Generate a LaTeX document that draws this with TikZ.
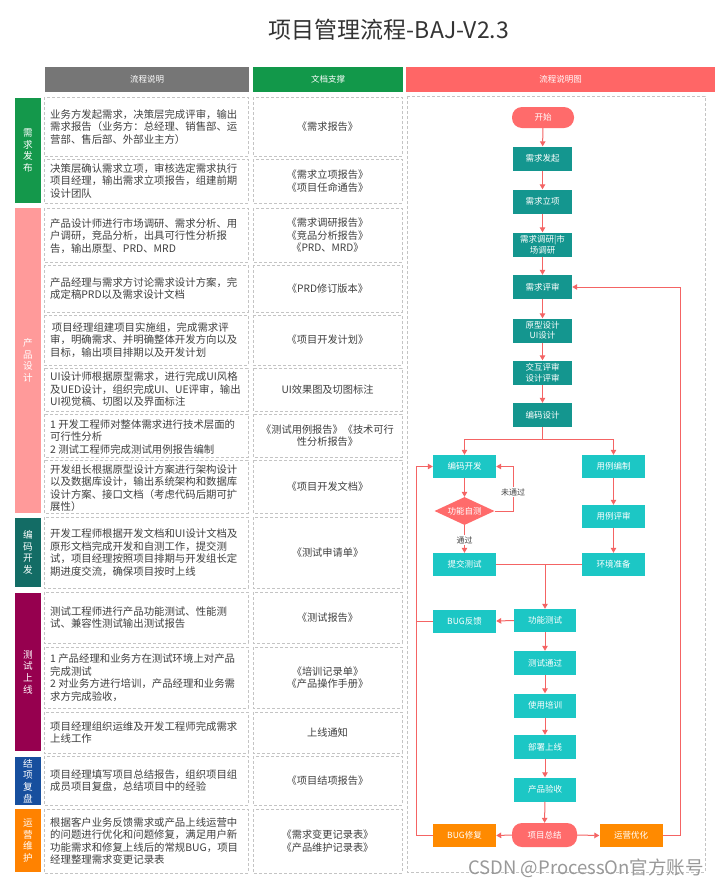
\documentclass[tikz,border=0pt]{standalone}
\usepackage{fontspec}
\setmainfont{Noto Sans CJK SC}
\usetikzlibrary{shapes.geometric,arrows.meta}
\definecolor{txt}{HTML}{404040}
\definecolor{hgray}{HTML}{767676}
\definecolor{hgreen}{HTML}{12984A}
\definecolor{hred}{HTML}{FF6666}
\definecolor{cellgray}{HTML}{C4C4C4}
\definecolor{catgreen}{HTML}{14984B}
\definecolor{catpink}{HTML}{FF9A9A}
\definecolor{catteal}{HTML}{136C65}
\definecolor{catplum}{HTML}{96004F}
\definecolor{catblue}{HTML}{174F9E}
\definecolor{catorange}{HTML}{FF8200}
\definecolor{teald}{HTML}{14968F}
\definecolor{teall}{HTML}{1CC7C5}
\definecolor{linered}{HTML}{F46464}
\definecolor{nodered}{HTML}{FF6B6B}
\definecolor{nodeorange}{HTML}{FF8A00}
\begin{document}
\begin{tikzpicture}[x=1pt,y=-1pt,
  cellb/.style={draw=cellgray, dashed, dash pattern=on 3pt off 2pt, line width=0.7pt},
  desc/.style={anchor=west, align=left, inner sep=0pt, text=txt, font=\fontsize{10.4}{12.5}\selectfont},
  docu/.style={align=center, inner sep=0pt, text=txt, font=\fontsize{10.2}{12.5}\selectfont},
  hdr/.style={text=white, inner sep=0pt, font=\fontsize{8.5}{10}\selectfont},
  cat/.style={text=white, align=center, inner sep=0pt, font=\fontsize{9.6}{11.6}\selectfont},
  fdark/.style={rectangle, fill=teald, text=white, minimum width=59pt, minimum height=24pt, inner sep=1pt, align=center, font=\fontsize{8.5}{10.5}\selectfont},
  flight/.style={rectangle, fill=teall, text=white, minimum width=63pt, minimum height=23pt, inner sep=1pt, align=center, font=\fontsize{8.5}{10.5}\selectfont},
  forange/.style={rectangle, fill=nodeorange, text=white, minimum width=63pt, minimum height=23pt, inner sep=1pt, align=center, font=\fontsize{8.5}{10.5}\selectfont},
  fround/.style={rectangle, rounded corners=10pt, fill=nodered, text=white, inner sep=1pt, align=center, font=\fontsize{8.5}{10.5}\selectfont},
  fdiam/.style={diamond, aspect=2.14, fill=nodered, text=white, minimum width=60pt, minimum height=28pt, inner sep=0pt, font=\fontsize{8.5}{10.5}\selectfont},
  arr/.style={draw=linered, line width=1pt, -{Triangle[length=5pt,width=5.5pt]}},
  ln/.style={draw=linered, line width=1pt},
  lbl/.style={fill=white, text=txt, inner sep=1pt, font=\fontsize{8}{10}\selectfont}
]
\useasboundingbox (0,0) rectangle (720,887);
\fill[white] (0,0) rectangle (720,887);

% title
\node[text=black!80, font=\fontsize{23}{26}\selectfont, inner sep=0pt] (title) at (389,30) {项目管理流程-BAJ-V2.3};

% headers
\fill[hgray] (45,67) rectangle (249,92);
\fill[hgreen] (253,67) rectangle (403,92);
\fill[hred] (406,67) rectangle (715,92);
\node[hdr] (h1) at (147,79.5) {流程说明};
\node[hdr] (h2) at (328,79.5) {文档支撑};
\node[hdr] (h3) at (560.5,79.5) {流程说明图};

% category bars
\fill[catgreen] (15,98) rectangle (41,203);
\fill[catpink] (15,208) rectangle (41,513);
\fill[catteal] (15,518) rectangle (41,587);
\fill[catplum] (15,593) rectangle (41,751);
\fill[catblue] (15,757) rectangle (41,805);
\fill[catorange] (15,809) rectangle (41,872);
\node[cat] (k1) at (28,150.5) {需\\求\\发\\布};
\node[cat] (k2) at (28,360.5) {产\\品\\设\\计};
\node[cat] (k3) at (28,552.5) {编\\码\\开\\发};
\node[cat] (k4) at (28,672) {测\\试\\上\\线};
\node[cat] (k5) at (28,781) {结\\项\\复\\盘};
\node[cat] (k6) at (28,840.5) {运\\营\\维\\护};

% table cells
\foreach \t/\b in {97/156,159/203,208/262,265/312,315/365,368/411,414/457,460/513,517/588,592/643,647/708,712/753,756/805,809/873}{
  \draw[cellb] (44,\t) rectangle (248,\b);
  \draw[cellb] (253,\t) rectangle (402,\b);
}
\draw[cellb] (407,96) rectangle (705,872);

% descriptions
\node[desc] (d1) at (50,127) {业务方发起需求，决策层完成评审，输出\\需求报告（业务方：总经理、销售部、运\\营部、售后部、外部业主方）};
\node[desc] (d2) at (50,181) {决策层确认需求立项，审核选定需求执行\\项目经理，输出需求立项报告，组建前期\\设计团队};
\node[desc] (d3) at (50,236) {产品设计师进行市场调研、需求分析、用\\户调研，竞品分析，出具可行性分析报\\告，输出原型、PRD、MRD};
\node[desc] (d4) at (50,288.5) {产品经理与需求方讨论需求设计方案，完\\成定稿PRD以及需求设计文档};
\node[desc] (d5) at (50,340) {\,项目经理组建项目实施组，完成需求评\\审，明确需求、并明确整体开发方向以及\\目标，输出项目排期以及开发计划};
\node[desc] (d6) at (50,389.5) {UI设计师根据原型需求，进行完成UI风格\\及UED设计，组织完成UI、UE评审，输出\\UI视觉稿、切图以及界面标注};
\node[desc] (d7) at (50,437) {1 开发工程师对整体需求进行技术层面的\\可行性分析\\2 测试工程师完成测试用例报告编制};
\node[desc] (d8) at (50,488) {开发组长根据原型设计方案进行架构设计\\以及数据库设计，输出系统架构和数据库\\设计方案、接口文档（考虑代码后期可扩\\展性）};
\node[desc] (d9) at (50,552.5) {开发工程师根据开发文档和UI设计文档及\\原形文档完成开发和自测工作，提交测\\试，项目经理按照项目排期与开发组长定\\期进度交流，确保项目按时上线};
\node[desc] (d10) at (50,617.5) {测试工程师进行产品功能测试、性能测\\试、兼容性测试输出测试报告};
\node[desc] (d11) at (50,677.5) {1 产品经理和业务方在测试环境上对产品\\完成测试\\2 对业务方进行培训，产品经理和业务需\\求方完成验收，};
\node[desc] (d12) at (50,732.5) {项目经理组织运维及开发工程师完成需求\\上线工作};
\node[desc] (d13) at (50,780.5) {项目经理填写项目总结报告，组织项目组\\成员项目复盘，总结项目中的经验};
\node[desc] (d14) at (50,841) {根据客户业务反馈需求或产品上线运营中\\的问题进行优化和问题修复，满足用户新\\功能需求和修复上线后的常规BUG，项目\\经理整理需求变更记录表};

% documents
\node[docu] (c1) at (327.5,126.5) {《需求报告》};
\node[docu] (c2) at (327.5,181) {《需求立项报告》\\《项目任命通告》};
\node[docu] (c3) at (327.5,235.5) {《需求调研报告》\\《竞品分析报告》\\《PRD、MRD》};
\node[docu] (c4) at (327.5,288.5) {《PRD修订版本》};
\node[docu] (c5) at (327.5,340) {《项目开发计划》};
\node[docu] (c6) at (327.5,389.5) {UI效果图及切图标注};
\node[docu] (c7) at (327.5,435.5) {《测试用例报告》《技术可行\\性分析报告》};
\node[docu] (c8) at (327.5,486.5) {《项目开发文档》};
\node[docu] (c9) at (327.5,552.5) {《测试申请单》};
\node[docu] (c10) at (327.5,617.5) {《测试报告》};
\node[docu] (c11) at (327.5,677.5) {《培训记录单》\\《产品操作手册》};
\node[docu] (c12) at (327.5,732.5) {上线通知};
\node[docu] (c13) at (327.5,780.5) {《项目结项报告》};
\node[docu] (c14) at (327.5,841) {《需求变更记录表》\\《产品维护记录表》};

% flowchart nodes
\node[fround, minimum width=62pt, minimum height=21pt] (start) at (543,117.5) {开始};
\node[fdark] (n1) at (542.5,158.5) {需求发起};
\node[fdark] (n2) at (542.5,201.5) {需求立项};
\node[fdark] (n3) at (542.5,244.5) {需求调研|市\\场调研};
\node[fdark] (n4) at (542.5,287) {需求评审};
\node[fdark] (n5) at (542.5,330.5) {原型设计\\UI设计};
\node[fdark] (n6) at (542.5,372.5) {交互评审\\设计评审};
\node[fdark] (n7) at (542.5,415) {编码设计};
\node[flight] (dev) at (464.5,466.5) {编码开发};
\node[flight] (case) at (613.5,466.5) {用例编制};
\node[fdiam] (chk) at (464.5,511) {功能自测};
\node[flight] (submit) at (464.5,564.5) {提交测试};
\node[flight] (crev) at (613.5,516.5) {用例评审};
\node[flight] (env) at (613.5,564.5) {环境准备};
\node[flight, minimum width=62pt] (ftest) at (545,620.5) {功能测试};
\node[flight] (bugfb) at (464.5,621) {BUG反馈};
\node[flight, minimum width=62pt, minimum height=24pt] (pass) at (545,663) {测试通过};
\node[flight, minimum width=62pt, minimum height=24pt] (train) at (545,705.5) {使用培训};
\node[flight, minimum width=62pt, minimum height=24pt] (deploy) at (545,747) {部署上线};
\node[flight, minimum width=62pt, minimum height=24pt] (accept) at (545,789.5) {产品验收};
\node[fround, minimum width=65pt, minimum height=24pt] (sum) at (544.5,835) {项目总结};
\node[forange] (bugfix) at (464.5,835.5) {BUG修复};
\node[forange] (ops) at (631,835.5) {运营优化};

% connectors
\draw[arr] (start) -- (n1);
\draw[arr] (n1) -- (n2);
\draw[arr] (n2) -- (n3);
\draw[arr] (n3) -- (n4);
\draw[arr] (n4) -- (n5);
\draw[arr] (n5) -- (n6);
\draw[arr] (n6) -- (n7);
\coordinate (sp) at (542.5,439);
\draw[ln] (n7.south) -- (sp);
\draw[arr] (sp) -| (dev.north);
\draw[arr] (sp) -| (case.north);
\draw[arr] (dev) -- (chk);
\draw[arr] (chk.south) -- (submit.north);
\node[lbl] (lpass) at (464.5,540) {通过};
\coordinate (np) at (513,511);
\draw[arr] (chk.east) -- (np) |- (dev.east);
\node[lbl] (lfail) at (513,492) {未通过};
\draw[arr] (case) -- (crev);
\draw[arr] (crev) -- (env);
\coordinate (mg) at (545,564.5);
\draw[ln] (submit.east) -- (mg);
\draw[ln] (env.west) -- (mg);
\draw[arr] (mg) -- (ftest.north);
\draw[arr] (ftest.west) -- (bugfb.east);
\coordinate (ll) at (416,621);
\coordinate (lb) at (416,835.5);
\draw[arr] (bugfb.west) -- (ll) |- (dev.west);
\draw[ln] (bugfix.west) -- (lb) -- (ll);
\draw[arr] (ftest) -- (pass);
\draw[arr] (pass) -- (train);
\draw[arr] (train) -- (deploy);
\draw[arr] (deploy) -- (accept);
\draw[arr] (accept) -- (sum);
\draw[arr] (sum.west) -- (bugfix.east);
\draw[arr] (sum.east) -- (ops.west);
\coordinate (rr) at (680,835.5);
\draw[arr] (ops.east) -- (rr) |- (n4.east);

% watermark
\node[text=black!40, inner sep=0pt, font=\fontsize{18.5}{20}\selectfont, anchor=east] (wm) at (704,868) {CSDN @ProcessOn官方账号};
\end{tikzpicture}
\end{document}
